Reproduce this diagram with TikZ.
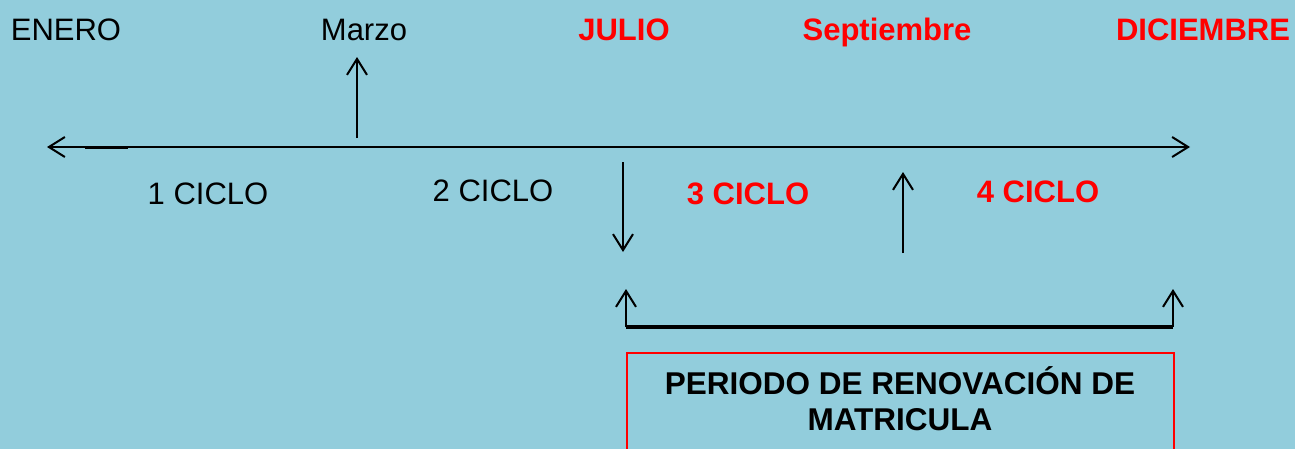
\documentclass[tikz,border=0pt]{standalone}
\usepackage{fontspec}
\setmainfont{Liberation Sans}
\usetikzlibrary{arrows.meta}
\definecolor{bg}{RGB}{146,205,220}
\definecolor{lred}{RGB}{255,0,0}
\begin{document}
\begin{tikzpicture}[x=1pt,y=-1pt,
  lbl/.style={inner sep=0pt,anchor=base,font=\fontsize{31}{34}\selectfont},
  redlbl/.style={lbl,text=lred,font=\fontsize{31}{34}\selectfont\bfseries},
  arr/.style={line width=2pt,-{Straight Barb[length=16pt,width=20pt,line width=2pt]}},
  dblarr/.style={line width=2pt,{Straight Barb[length=16pt,width=20pt,line width=2pt]}-{Straight Barb[length=16pt,width=20pt,line width=2pt]}}]
\useasboundingbox (0,0) rectangle (1295,448);
\fill[bg] (-5,-5) rectangle (1300,470);
% labels
\node[lbl] (enero) at (66,40) {ENERO};
\node[lbl] (marzo) at (364,40) {Marzo};
\node[redlbl] (julio) at (624,40) {JULIO};
\node[redlbl] (sept) at (887,40) {Septiembre};
\node[redlbl] (dic) at (1203,40) {DICIEMBRE};
\node[lbl] (c1) at (208,204) {1 CICLO};
\node[lbl] (c2) at (493,201) {2 CICLO};
\node[redlbl] (c3) at (748,204) {3 CICLO};
\node[redlbl] (c4) at (1038,202) {4 CICLO};
% axis
\coordinate (axL) at (47,147);
\coordinate (axR) at (1190,147);
\draw[dblarr] (axL) -- (axR);
\coordinate (thA) at (85,147);
\coordinate (thB) at (128,147);
\draw[line width=3pt] (thA) -- (thB);
% marzo arrow
\coordinate (m0) at (357,138);
\coordinate (m1) at (357,57);
\draw[arr] (m0) -- (m1);
% julio arrow
\coordinate (j0) at (623,162);
\coordinate (j1) at (623,252);
\draw[arr] (j0) -- (j1);
% septiembre arrow
\coordinate (s0) at (903,253);
\coordinate (s1) at (903,172);
\draw[arr] (s0) -- (s1);
% bracket
\coordinate (bl) at (626,327);
\coordinate (br) at (1173,327);
\coordinate (blt) at (626,289);
\coordinate (brt) at (1173,289);
\draw[line width=3.5pt] (bl) -- (br);
\draw[arr] (bl) -- (blt);
\draw[arr] (br) -- (brt);
% box
\node[draw=lred,line width=1.5pt,minimum width=547pt,minimum height=110pt,anchor=north west,inner sep=0pt] (box) at (626,352) {};
\node[inner sep=0pt,anchor=base,font=\fontsize{31.5}{34}\selectfont\bfseries] (boxtxt1) at (900,394) {PERIODO DE RENOVACIÓN DE};
\node[inner sep=0pt,anchor=base,font=\fontsize{31.5}{34}\selectfont\bfseries] (boxtxt2) at (900,430) {MATRICULA};
\end{tikzpicture}
\end{document}
